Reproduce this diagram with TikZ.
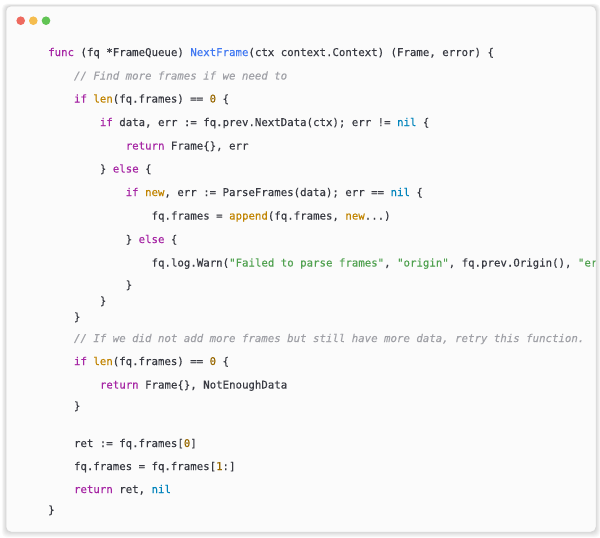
\documentclass[tikz,border=0pt]{standalone}
\usepackage{fontspec}
\setmonofont{DejaVu Sans Mono}[FakeBold=0.35]
\usepackage{xcolor}
\definecolor{kwc}{HTML}{A626A4}
\definecolor{fnc}{HTML}{4078F2}
\definecolor{bic}{HTML}{C18401}
\definecolor{nilc}{HTML}{0184BC}
\definecolor{numc}{HTML}{986801}
\definecolor{strc}{HTML}{50A14F}
\definecolor{cmc}{HTML}{A0A1A7}
\definecolor{txtc}{HTML}{383A42}
\definecolor{cardc}{HTML}{FBFBFB}
\definecolor{cardline}{HTML}{D6D6D6}
\definecolor{redc}{HTML}{EE6A5F}
\definecolor{yelc}{HTML}{F5BD4F}
\definecolor{grnc}{HTML}{61C454}
\newcommand\ckw[1]{\textcolor{kwc}{#1}}
\newcommand\cfn[1]{\textcolor{fnc}{#1}}
\newcommand\cbi[1]{\textcolor{bic}{#1}}
\newcommand\cnil[1]{\textcolor{nilc}{#1}}
\newcommand\cnum[1]{\textcolor{numc}{#1}}
\newcommand\cstr[1]{\textcolor{strc}{#1}}
\newcommand\ccm[1]{\textcolor{cmc}{\itshape #1}}
\tikzset{
  codeline/.style={anchor=base west, inner sep=0pt, text=txtc,
    font=\ttfamily\fontsize{10.73}{12}\selectfont},
  light/.style={circle, minimum size=8.6pt, inner sep=0pt}
}
\begin{document}
\begin{tikzpicture}[x=1pt,y=-1pt]
\useasboundingbox (0,0) rectangle (600,538);
\fill[white] (0,0) rectangle (600,538);
% shadow
\foreach \i in {1,...,6}{
  \fill[black, opacity=0.025, rounded corners=5pt]
    (6-\i*0.7, 6-\i*0.4) rectangle (596+\i*0.7, 532+\i*0.9);
}
% card
\path[fill=cardc, draw=cardline, line width=0.5pt, rounded corners=5pt]
  (6,6) rectangle (596,532);
% traffic lights
\node[light, fill=redc] (red) at (20.7,20.7) {};
\node[light, fill=yelc] (yel) at (33.3,20.7) {};
\node[light, fill=grnc] (grn) at (46,20.7) {};
\begin{scope}
\clip (6,6) rectangle (595.5,532);
\def\La{48}
\def\Lb{73.8}
\def\Lc{99.7}
\def\Ld{125.5}
\def\Le{151.4}
\node[codeline] (l1) at (\La,56) {\ckw{func} (fq *FrameQueue) \cfn{NextFrame}(ctx context.Context) (Frame, error) \{};
\node[codeline] (l2) at (\Lb,79.5) {\ccm{// Find more frames if we need to}};
\node[codeline] (l3) at (\Lb,102.5) {\ckw{if} \cbi{len}(fq.frames) == \cnum{0} \{};
\node[codeline] (l4) at (\Lc,126) {\ckw{if} data, err := fq.prev.NextData(ctx); err != \cnil{nil} \{};
\node[codeline] (l5) at (\Ld,149.5) {\ckw{return} Frame\{\}, err};
\node[codeline] (l6) at (\Lc,172.5) {\} \ckw{else} \{};
\node[codeline] (l7) at (\Ld,196) {\ckw{if} \cbi{new}, err := ParseFrames(data); err == \cnil{nil} \{};
\node[codeline] (l8) at (\Le,219.5) {fq.frames = \cbi{append}(fq.frames, \cbi{new}...)};
\node[codeline] (l9) at (\Ld,243) {\} \ckw{else} \{};
\node[codeline] (l10) at (\Le,266.5) {fq.log.Warn(\cstr{"Failed to parse frames"}, \cstr{"origin"}, fq.prev.Origin(), \cstr{"er}};
\node[codeline] (l11) at (\Ld,288.5) {\}};
\node[codeline] (l12) at (\Lc,304.5) {\}};
\node[codeline] (l13) at (\Lb,320.5) {\}};
\node[codeline] (l14) at (\Lb,342) {\ccm{// If we did not add more frames but still have more data, retry this function.}};
\node[codeline] (l15) at (\Lb,365) {\ckw{if} \cbi{len}(fq.frames) == \cnum{0} \{};
\node[codeline] (l16) at (\Lc,388.5) {\ckw{return} Frame\{\}, NotEnoughData};
\node[codeline] (l17) at (\Lb,409.5) {\}};
\node[codeline] (l18) at (\Lb,447) {ret := fq.frames[\cnum{0}]};
\node[codeline] (l19) at (\Lb,470) {fq.frames = fq.frames[\cnum{1}:]};
\node[codeline] (l20) at (\Lb,493) {\ckw{return} ret, \cnil{nil}};
\node[codeline] (l21) at (\La,513.5) {\}};
\end{scope}
\end{tikzpicture}
\end{document}
